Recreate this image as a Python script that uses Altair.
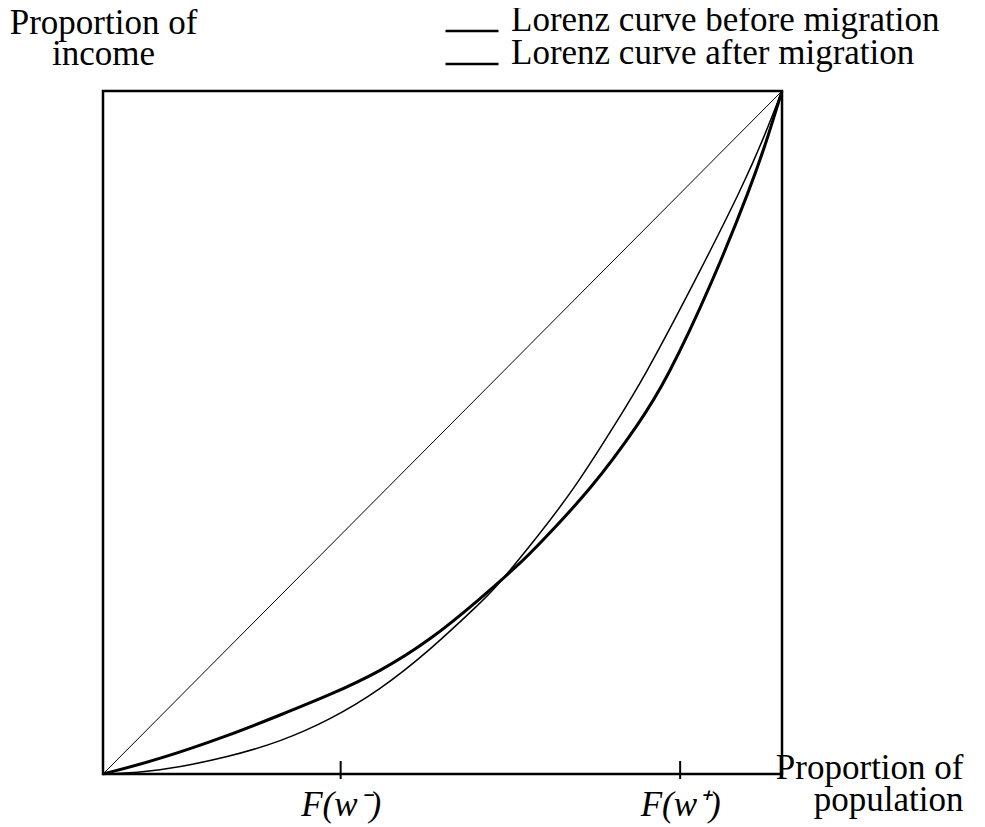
import altair as alt
import pandas as pd

# ---- data ----
series_names = ["Lorenz curve before migration", "Lorenz curve after migration"]

pop_before = [0, 0.08, 0.187, 0.261, 0.334, 0.408, 0.482, 0.555, 0.614, 0.639, 0.72, 0.79, 0.83, 0.896, 0.955, 0.979, 1]
inc_before = [0, 0.0205, 0.057, 0.0864, 0.1157, 0.1498, 0.196, 0.256, 0.308, 0.333, 0.418, 0.5135, 0.577, 0.716, 0.862, 0.932, 1]

pop_after = [0, 0.079, 0.187, 0.261, 0.334, 0.408, 0.482, 0.555, 0.575, 0.626, 0.695, 0.755, 0.795, 0.869, 0.943, 0.975, 1]
inc_after = [0, 0.003, 0.0253, 0.0473, 0.0791, 0.123, 0.1816, 0.250, 0.269, 0.330, 0.418, 0.5135, 0.577, 0.716, 0.862, 0.936, 1]

equality_pop = [0, 1]
equality_inc = [0, 1]

tick_values = [0.35, 0.85]
tick_labels = ["F(w\u207b)", "F(w\u207a)"]

x_title = ["Proportion of", "population"]
y_title = ["Proportion of", "income"]

# ---- tables ----
before_df = pd.DataFrame({"pop": pop_before, "inc": inc_before, "series": series_names[0]})
after_df = pd.DataFrame({"pop": pop_after, "inc": inc_after, "series": series_names[1]})
diag = pd.DataFrame({"pop": equality_pop, "inc": equality_inc})
ticks = pd.DataFrame({"pop": tick_values})

FONT = "Liberation Serif"
FS = 35
LEG_FS = 35

label_expr = " : ".join(
    [f"datum.value == {v} ? '{l}'" for v, l in zip(tick_values, tick_labels)] + ["''"]
)

x_enc = alt.X(
    "pop:Q",
    scale=alt.Scale(domain=[0, 1], nice=False, zero=False),
    axis=alt.Axis(
        values=tick_values,
        labelExpr=label_expr,
        ticks=False,
        domain=False,
        grid=False,
        labelFont=FONT,
        labelFontSize=FS,
        labelFontStyle="italic",
        labelColor="black",
        labelBaseline="alphabetic",
        labelPadding=41,
        title=x_title,
        titleFont=FONT,
        titleFontSize=FS,
        titleFontWeight="normal",
        titleColor="black",
        titleAlign="right",
        titleBaseline="alphabetic",
        titleAngle=0,
        titleX=860,
        titleY=4,
        titleLineHeight=32,
    ),
)
y_enc = alt.Y(
    "inc:Q",
    scale=alt.Scale(domain=[0, 1], nice=False, zero=False),
    axis=alt.Axis(
        labels=False,
        ticks=False,
        domain=False,
        grid=False,
        title=y_title,
        titleFont=FONT,
        titleFontSize=FS,
        titleFontWeight="normal",
        titleColor="black",
        titleAlign="center",
        titleBaseline="alphabetic",
        titleAngle=0,
        titleX=0,
        titleY=-58,
        titleLineHeight=31,
    ),
)


def legend_at(ypos):
    return alt.Legend(
        orient="none",
        legendX=341,
        legendY=ypos,
        title=None,
        symbolType="stroke",
        symbolSize=2809,
        symbolStrokeWidth=2.5,
        labelFont=FONT,
        labelFontSize=LEG_FS,
        labelColor="black",
        labelBaseline="alphabetic",
        labelOffset=11,
        labelLimit=800,
    )


diag_layer = alt.Chart(diag).mark_line(color="black", strokeWidth=1).encode(x=x_enc, y=y_enc)

before_layer = alt.Chart(before_df).mark_line(interpolate="basis", strokeWidth=3).encode(
    x=x_enc,
    y=y_enc,
    color=alt.Color("series:N", scale=alt.Scale(range=["black"]), legend=legend_at(-88)),
)

after_layer = alt.Chart(after_df).mark_line(interpolate="basis", strokeWidth=1.5).encode(
    x=x_enc,
    y=y_enc,
    color=alt.Color("series:N", scale=alt.Scale(range=["black"]), legend=legend_at(-55)),
)

tick_layer = alt.Chart(ticks).mark_rule(color="black", strokeWidth=2).encode(
    x=alt.X("pop:Q"),
    y=alt.value(670),
    y2=alt.value(688),
)

chart = (
    alt.layer(diag_layer, before_layer, after_layer, tick_layer)
    .resolve_scale(color="independent")
    .resolve_legend(color="independent")
    .properties(
        width=679,
        height=683,
        autosize=alt.AutoSizeParams(type="none"),
        padding={"left": 95, "top": 83, "right": 190, "bottom": 50},
        background="white",
    )
    .configure_view(stroke="black", strokeWidth=2.5)
)

chart.save("out.html", embed_options={"renderer": "svg", "actions": False})
